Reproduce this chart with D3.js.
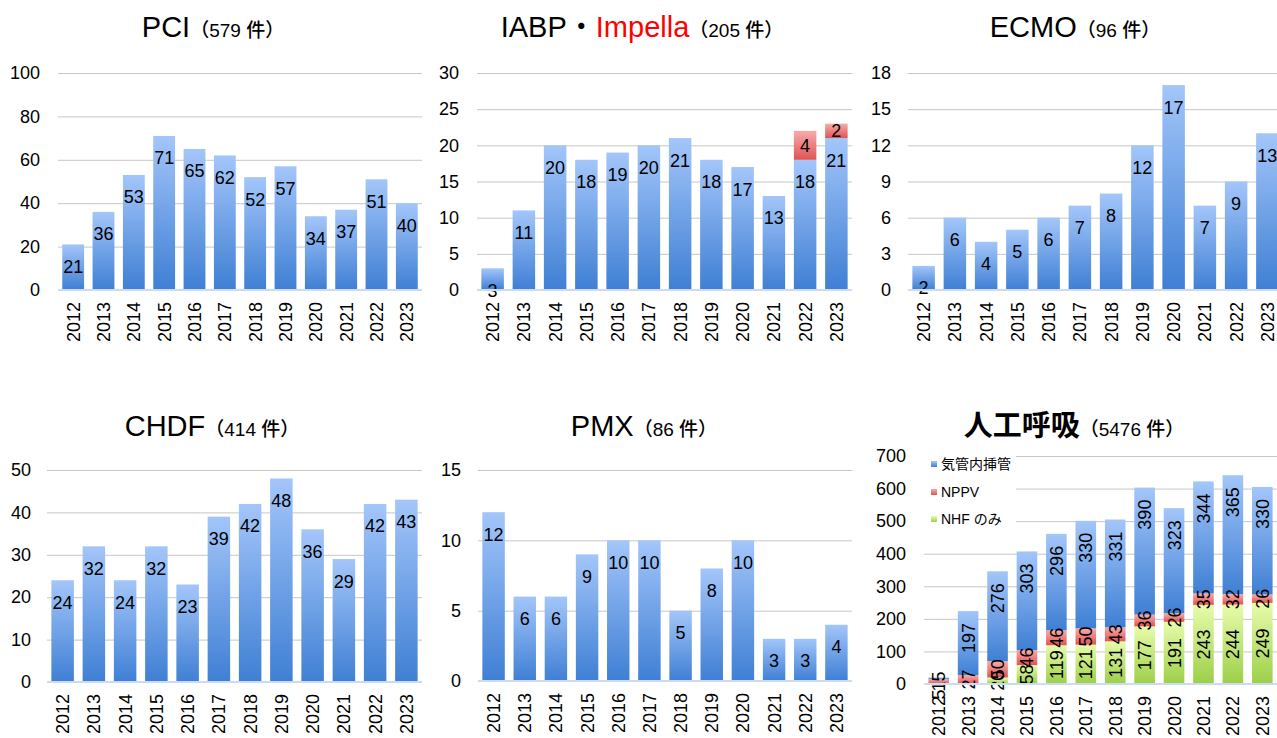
<!DOCTYPE html>
<html>
<head>
<meta charset="utf-8">
<script src="https://cdn.jsdelivr.net/npm/d3@7"></script>
<style>
  body { margin: 0; background: #fff; }
  svg { display: block; font-family: "Liberation Sans", Arial, "Noto Sans CJK JP", sans-serif; }
</style>
</head>
<body>
<svg id="chart" width="1277" height="738"></svg>
<script>
// data
var years = ["2012","2013","2014","2015","2016","2017","2018","2019","2020","2021","2022","2023"];
var pciValues = [21, 36, 53, 71, 65, 62, 52, 57, 34, 37, 51, 40];
var iabpValues = [3, 11, 20, 18, 19, 20, 21, 18, 17, 13, 18, 21];
var impellaValues = [0, 0, 0, 0, 0, 0, 0, 0, 0, 0, 4, 2];
var ecmoValues = [2, 6, 4, 5, 6, 7, 8, 12, 17, 7, 9, 13];
var chdfValues = [24, 32, 24, 32, 23, 39, 42, 48, 36, 29, 42, 43];
var pmxValues = [12, 6, 6, 9, 10, 10, 5, 8, 10, 3, 3, 4];
var nhfValues = [0, 0, 20, 58, 119, 121, 131, 177, 191, 243, 244, 249];
var nppvValues = [15, 27, 50, 46, 46, 50, 43, 36, 26, 35, 32, 26];
var intubationValues = [5, 197, 276, 303, 296, 330, 331, 390, 323, 344, 365, 330];
var ventSeries = ["NHF のみ", "NPPV", "気管内挿管"];

var svg = d3.select("#chart");
var defs = svg.append("defs");

function grad(id, top, bottom) {
    var g = defs.append("linearGradient").attr("id", id)
        .attr("x1", 0).attr("y1", 0).attr("x2", 0).attr("y2", 1);
    g.append("stop").attr("offset", "0%").attr("stop-color", top);
    g.append("stop").attr("offset", "100%").attr("stop-color", bottom);
}
grad("gBlue", "#a3c6fa", "#3f7fd4");
grad("gRed", "#f7abab", "#e05454");
grad("gGreen", "#e8fcab", "#9ccf48");

var panels = [
    { main: "PCI", sub: "（579 件）", cx: 213, ty: 37, x0: 58, x1: 422, yTop: 73, yBot: 290, max: 100, step: 20, labelRight: 40, values: pciValues },
    { main: "IABP・", main2: "Impella", sub: "（205 件）", cx: 642, ty: 37, x0: 477, x1: 852, yTop: 73, yBot: 290, max: 30, step: 5, labelRight: 459, values: iabpValues, extra: impellaValues },
    { main: "ECMO", sub: "（96 件）", cx: 1075, ty: 37, x0: 908, x1: 1283, yTop: 73, yBot: 290, max: 18, step: 3, labelRight: 891, values: ecmoValues },
    { main: "CHDF", sub: "（414 件）", cx: 212, ty: 436, x0: 47, x1: 422, yTop: 470, yBot: 682, max: 50, step: 10, labelRight: 31, values: chdfValues },
    { main: "PMX", sub: "（86 件）", cx: 644, ty: 436, x0: 478, x1: 852, yTop: 470, yBot: 681, max: 15, step: 5, labelRight: 461, values: pmxValues },
    { main: "人工呼吸", sub: "（5476 件）", cx: 1074, ty: 436, x0: 924, x1: 1277, yTop: 456, yBot: 684, max: 700, step: 100, labelRight: 906, stacked: true }
];

panels.forEach(function(p) {
    var g = svg.append("g");

    // title
    var t = g.append("text")
        .attr("x", p.cx).attr("y", p.ty)
        .attr("text-anchor", "middle")
        .attr("fill", "#000");
    t.append("tspan").text(p.main)
        .style("font-size", "29px")
        .style("font-weight", p.stacked ? "bold" : "normal");
    if (p.main2) {
        t.append("tspan").text(p.main2).attr("fill", "#ff0000").style("font-size", "29px");
    }
    t.append("tspan").text(p.sub).style("font-size", "19px").style("font-weight", "500");

    var x = d3.scaleBand().domain(years).range([p.x0, p.x1])
        .paddingInner(p.stacked ? 0.3 : 0.28).paddingOuter(p.stacked ? 0.15 : 0.14);
    var y = d3.scaleLinear().domain([0, p.max]).range([p.yBot, p.yTop]);

    // y axis with gridlines
    var yAxis = g.append("g")
        .attr("transform", "translate(" + p.x0 + ",0)")
        .call(d3.axisLeft(y)
            .tickValues(d3.range(0, p.max + p.step / 2, p.step))
            .tickSize(-(Math.min(p.x1, 1277) - p.x0))
            .tickPadding(p.x0 - p.labelRight));
    yAxis.select(".domain").remove();
    yAxis.selectAll(".tick line").attr("stroke", "#c6c6c6");
    yAxis.selectAll(".tick text")
        .attr("fill", "#000")
        .style("font-size", "18px");

    // x axis labels
    var xAxis = g.append("g")
        .attr("transform", "translate(0," + p.yBot + ")")
        .call(d3.axisBottom(x).tickSize(0));
    xAxis.select(".domain").remove();
    xAxis.selectAll(".tick text")
        .attr("transform", "rotate(-90)")
        .attr("x", -12).attr("y", 0).attr("dy", "0.36em")
        .attr("fill", "#000")
        .style("text-anchor", "end")
        .style("font-size", "18px");

    if (!p.stacked) {
        var bars = g.selectAll("g.bar")
            .data(years.map(function(yr, i) { return { year: yr, value: p.values[i], extra: p.extra ? p.extra[i] : 0 }; }))
          .enter().append("g").attr("class", "bar");
        bars.append("rect")
            .attr("x", function(d) { return x(d.year); })
            .attr("width", x.bandwidth())
            .attr("y", function(d) { return y(d.value); })
            .attr("height", function(d) { return y(0) - y(d.value); })
            .attr("fill", "url(#gBlue)");
        bars.append("text")
            .attr("x", function(d) { return x(d.year) + x.bandwidth() / 2; })
            .attr("y", function(d) { return y(d.value) + 22; })
            .attr("dy", "0.36em")
            .attr("text-anchor", "middle")
            .style("font-size", "18px")
            .text(function(d) { return d.value; });

        var ext = bars.filter(function(d) { return d.extra > 0; });
        ext.append("rect")
            .attr("x", function(d) { return x(d.year); })
            .attr("width", x.bandwidth())
            .attr("y", function(d) { return y(d.value + d.extra); })
            .attr("height", function(d) { return y(d.value) - y(d.value + d.extra); })
            .attr("fill", "url(#gRed)");
        ext.append("text")
            .attr("x", function(d) { return x(d.year) + x.bandwidth() / 2; })
            .attr("y", function(d) { return (y(d.value) + y(d.value + d.extra)) / 2; })
            .attr("dy", "0.36em")
            .attr("text-anchor", "middle")
            .style("font-size", "18px")
            .text(function(d) { return d.extra; });
    } else {
        var rows = years.map(function(yr, i) {
            return { year: yr, nhf: nhfValues[i], nppv: nppvValues[i], intub: intubationValues[i] };
        });
        var stack = d3.stack().keys(["nhf", "nppv", "intub"])(rows);
        var fills = { nhf: "url(#gGreen)", nppv: "url(#gRed)", intub: "url(#gBlue)" };
        var segs = [];
        stack.forEach(function(s) {
            s.forEach(function(d) { segs.push({ key: s.key, y0: d[0], y1: d[1], year: d.data.year }); });
        });

        // all segments first, labels afterwards so nothing covers them
        g.append("g").selectAll("rect").data(segs)
          .enter().append("rect")
            .attr("x", function(d) { return x(d.year); })
            .attr("width", x.bandwidth())
            .attr("y", function(d) { return y(d.y1); })
            .attr("height", function(d) { return y(d.y0) - y(d.y1); })
            .attr("fill", function(d) { return fills[d.key]; });

        g.append("g").selectAll("text")
            .data(segs.filter(function(d) { return d.y1 - d.y0 > 0; }))
          .enter().append("text")
            .attr("transform", function(d) {
                var cx = x(d.year) + x.bandwidth() / 2;
                var yy = d.key === "intub" ? y(d.y1) + 12 : (y(d.y0) + y(d.y1)) / 2;
                return "translate(" + cx + "," + yy + ") rotate(-90)";
            })
            .attr("dy", "0.36em")
            .attr("text-anchor", function(d) { return d.key === "intub" ? "end" : "middle"; })
            .style("font-size", "18px")
            .text(function(d) { return d.y1 - d.y0; });

        // legend
        var lg = g.append("g");
        lg.append("rect").attr("x", 918).attr("y", 447).attr("width", 98).attr("height", 84).attr("fill", "#fff");
        var legendItems = [
            { label: ventSeries[2], fill: fills.intub, y: 464 },
            { label: ventSeries[1], fill: fills.nppv, y: 492 },
            { label: ventSeries[0], fill: fills.nhf, y: 519 }
        ];
        legendItems.forEach(function(it) {
            lg.append("rect").attr("x", 931).attr("y", it.y - 3).attr("width", 6).attr("height", 6).attr("fill", it.fill);
            lg.append("text").attr("x", 941).attr("y", it.y).attr("dy", "0.36em")
                .style("font-size", "14px").text(it.label);
        });
    }

    // baseline
    g.append("line")
        .attr("x1", p.x0).attr("x2", Math.min(p.x1, 1277))
        .attr("y1", y(0)).attr("y2", y(0))
        .attr("stroke", "#c9dcf2").attr("stroke-width", 2);
});
</script>
</body>
</html>
